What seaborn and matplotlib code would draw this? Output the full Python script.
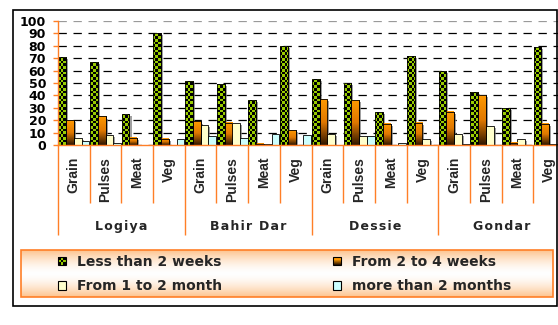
import numpy as np
import pandas as pd
import matplotlib
matplotlib.use("Agg")
import matplotlib.pyplot as plt
import matplotlib.patheffects as pe
import seaborn as sns
from matplotlib.patches import Rectangle, Patch
from matplotlib.path import Path
from matplotlib.legend_handler import HandlerBase
from matplotlib.transforms import blended_transform_factory

# ---- data -------------------------------------------------------------
cities = ["Logiya", "Bahir Dar", "Dessie", "Gondar"]
products = ["Grain", "Pulses", "Meat", "Veg"]
periods = ["Less than 2 weeks", "From 2 to 4 weeks",
           "From 1 to 2 month", "more than 2 months"]

less_2_weeks = [71, 67, 25, 90, 52, 49, 36, 80, 53, 50, 27, 72, 60, 43, 30, 79]
weeks_2_to_4 = [20, 23, 6, 5, 19, 18, 1, 12, 37, 36, 17, 18, 27, 40, 2, 17]
month_1_to_2 = [6, 8, 0, 0, 16, 18, 1, 0, 9, 7, 0, 5, 9, 15, 5, 1]
over_2_months = [3, 2, 0, 5, 7, 6, 9, 8, 0, 7, 2, 0, 1, 0, 0, 0]

y_ticks = list(range(0, 101, 10))

# ---- styling ----------------------------------------------------------
GREEN = "#99cc00"
ORANGE_TOP = "#ff9900"
ORANGE_BOTTOM = "#2e1600"
PALE_YELLOW = "#ffffcc"
PALE_CYAN = "#ccffff"
AXIS_ORANGE = "#ff7f27"

sns.set_theme(style="white")
plt.rcParams["font.family"] = ["DejaVu Sans"]
plt.rcParams["lines.scale_dashes"] = False

W, H = 558, 325
fig = plt.figure(figsize=(W / 100, H / 100), dpi=100)


def fx(px):
    return px / W


def fy(py):
    return 1 - py / H


def spaced(text):
    """Open up the letter spacing with hair spaces."""
    return "\u200a".join(text)


groups = [f"{c}|{p}" for c in cities for p in products]
series = [less_2_weeks, weeks_2_to_4, month_1_to_2, over_2_months]
rows = []
for period, vals in zip(periods, series):
    for g, v in zip(groups, vals):
        rows.append({"group": g, "period": period, "value": v})
df = pd.DataFrame(rows)

ax = fig.add_axes([fx(58), fy(145), (565 - 58) / W, (145 - 21) / H])
sns.barplot(data=df, x="group", y="value", hue="period", order=groups,
            hue_order=periods,
            palette={periods[0]: GREEN, periods[1]: ORANGE_TOP,
                     periods[2]: PALE_YELLOW, periods[3]: PALE_CYAN},
            width=0.98, gap=0, saturation=1, edgecolor="black",
            linewidth=0.6, errorbar=None, legend=False, ax=ax)

shadow = [pe.SimplePatchShadow(offset=(1.5, -1.5), shadow_rgbFace="#808080",
                               alpha=0.75), pe.Normal()]
for cont in ax.containers:
    for bar in cont:
        bar.set_zorder(2)
        bar.set_path_effects(shadow)

# checkered fill for the "less than 2 weeks" bars
cell_x = 2.7 * 16 / 507
cell_y = 2.7 * 100 / 124
nx, ny = int(16 / cell_x) + 2, int(100 / cell_y) + 2
check = np.add.outer(np.arange(ny), np.arange(nx)) % 2
green_rgb = np.array(matplotlib.colors.to_rgb(GREEN))
img = np.where(check[..., None] == 0, green_rgb, np.zeros(3))
rects = []
for bar in ax.containers[0]:
    if bar.get_height() > 0:
        x, w, h = bar.get_x(), bar.get_width(), bar.get_height()
        rects.append(Path([(x, 0), (x + w, 0), (x + w, h), (x, h), (x, 0)],
                          [Path.MOVETO, Path.LINETO, Path.LINETO,
                           Path.LINETO, Path.CLOSEPOLY]))
im = ax.imshow(img, extent=(-0.5, -0.5 + nx * cell_x, 0, ny * cell_y),
               origin="lower", interpolation="nearest", aspect="auto",
               zorder=2.1)
im.set_clip_path(Path.make_compound_path(*rects), ax.transData)

# vertical gradient fill for the "2 to 4 weeks" bars
top = np.array(matplotlib.colors.to_rgb(ORANGE_TOP))
mid = np.array(matplotlib.colors.to_rgb("#e07800"))
bot = np.array(matplotlib.colors.to_rgb(ORANGE_BOTTOM))
t = np.linspace(0, 1, 80)[:, None]
grad = np.where(t < 0.5, bot + (mid - bot) * (t / 0.5),
                mid + (top - mid) * ((t - 0.5) / 0.5))
grad = grad[:, None, :]
for bar in ax.containers[1]:
    h = bar.get_height()
    if h > 0:
        x, w = bar.get_x(), bar.get_width()
        ax.imshow(grad, extent=(x, x + w, 0, h), origin="lower",
                  aspect="auto", interpolation="bilinear", zorder=2.1)

for cont in ax.containers[:2]:
    for bar in cont:
        if bar.get_height() > 0:
            ax.add_patch(Rectangle((bar.get_x(), 0), bar.get_width(),
                                   bar.get_height(), fill=False,
                                   ec="black", lw=0.6, zorder=2.2))

ax.set_xlim(-0.5, 15.5)
ax.set_ylim(0, 100)
ax.set_xlabel("")
ax.set_ylabel("")

# y axis and grid
ax.set_yticks(y_ticks)
ax.set_yticklabels([str(v) for v in y_ticks], fontsize=9, fontweight="bold")
ax.tick_params(axis="y", left=True, length=3.6, width=1, color=AXIS_ORANGE,
               pad=5, labelcolor="black")
ax.set_axisbelow(True)
ax.yaxis.grid(True, color="black", lw=0.9, linestyle=(0, (6, 4.8)))
ax.xaxis.grid(False)
ax.get_ygridlines()[-1].set_color("#9a9a9a")
for side in ("top", "right"):
    ax.spines[side].set_visible(False)
for side in ("left", "bottom"):
    ax.spines[side].set_color(AXIS_ORANGE)
    ax.spines[side].set_linewidth(1)

# x axis: product labels, separators, city labels
ax.set_xticks(range(len(groups)))
ax.set_xticklabels(products * len(cities), rotation=90, fontsize=10,
                   fontweight="bold", family=["Liberation Sans"])
ax.tick_params(axis="x", length=0, pad=8.6)
trans = blended_transform_factory(ax.transData, ax.transAxes)
for k in range(len(groups) + 1):
    y_end = -(235 - 145) / 124 if k % 4 == 0 else -(203 - 145) / 124
    ax.plot([k - 0.5, k - 0.5], [0, y_end], transform=trans,
            color=AXIS_ORANGE, lw=1, clip_on=False, solid_capstyle="butt",
            zorder=1)
for i, city in enumerate(cities):
    ax.text(1.5 + 4 * i, -(226 - 145) / 124, spaced(city), transform=trans,
            ha="center", va="center", fontsize=9, fontweight="bold")

# outer frame
fig.add_artist(Rectangle((fx(13), fy(306)), fx(557) - fx(13),
                         fy(9.5) - fy(306), transform=fig.transFigure,
                         fill=False, ec="black", lw=1.2))

# legend background with soft orange gradient
lax = fig.add_axes([fx(21), fy(297), fx(553) - fx(21), fy(250) - fy(297)])
tt = np.linspace(0, 1, 64)
wgt = (np.abs(tt - 0.5) * 2) ** 1.6
peach = np.array(matplotlib.colors.to_rgb("#fdc48f"))
bg = (1 - wgt)[:, None] * np.ones(3) + wgt[:, None] * peach
lax.imshow(bg[:, None, :], extent=(0, 1, 0, 1), aspect="auto",
           interpolation="bilinear")
lax.set_xlim(0, 1)
lax.set_ylim(0, 1)
lax.set_axis_off()
lax.add_patch(Rectangle((0, 0), 1, 1, transform=lax.transAxes, fill=False,
                        ec=AXIS_ORANGE, lw=1.2, clip_on=False))


class CheckerHandler(HandlerBase):
    def create_artists(self, legend, orig_handle, xdescent, ydescent,
                       width, height, fontsize, trans):
        s = min(width, height)
        x0 = -xdescent + (width - s) / 2
        y0 = -ydescent + (height - s) / 2
        arts = [Rectangle((x0, y0), s, s, fc=GREEN, ec="none",
                          transform=trans)]
        n = 3
        c = s / n
        for i in range(n):
            for j in range(n):
                if (i + j) % 2 == 0:
                    arts.append(Rectangle((x0 + i * c, y0 + j * c), c, c,
                                          fc="black", ec="none",
                                          transform=trans))
        arts.append(Rectangle((x0, y0), s, s, fill=False, ec="black",
                              lw=0.8, transform=trans))
        return arts


class GradientHandler(HandlerBase):
    def create_artists(self, legend, orig_handle, xdescent, ydescent,
                       width, height, fontsize, trans):
        s = min(width, height)
        x0 = -xdescent + (width - s) / 2
        y0 = -ydescent + (height - s) / 2
        arts = []
        n = 8
        for k in range(n):
            f = k / (n - 1)
            col = bot + (top - bot) * min(1.0, f * 1.4)
            arts.append(Rectangle((x0, y0 + k * s / n), s, s / n, fc=col,
                                  ec="none", transform=trans))
        arts.append(Rectangle((x0, y0), s, s, fill=False, ec="black",
                              lw=0.8, transform=trans))
        return arts


h_less = Patch(fc=GREEN, ec="black")
h_24 = Patch(fc=ORANGE_TOP, ec="black")
h_12 = Patch(fc=PALE_YELLOW, ec="black", lw=0.8)
h_more = Patch(fc=PALE_CYAN, ec="black", lw=0.8)
fig.legend([h_less, h_12, h_24, h_more],
           [periods[0], periods[2], periods[1], periods[3]],
           handler_map={h_less: CheckerHandler(), h_24: GradientHandler()},
           ncol=2, loc="upper left", bbox_to_anchor=(fx(58), fy(255)),
           frameon=False, handlelength=0.55, handleheight=0.55,
           handletextpad=0.8, columnspacing=8.0, labelspacing=0.75,
           borderpad=0, borderaxespad=0,
           prop={"weight": "bold", "size": 10})

fig.savefig("out.png", dpi=100)
